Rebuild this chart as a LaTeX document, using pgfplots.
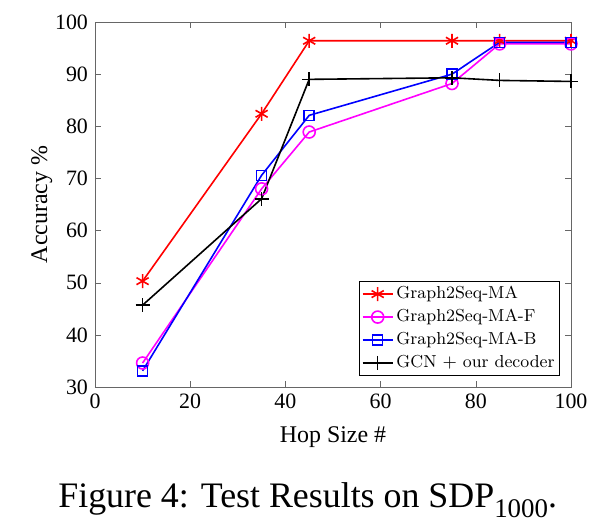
\documentclass[border=0pt]{standalone}
\usepackage{fontspec}
\setmainfont{Liberation Serif}
\newfontfamily\lmfont{Latin Modern Roman}
\usepackage{pgfplots}
\pgfplotsset{compat=1.18}
\definecolor{pmag}{rgb}{1,0,1}
\definecolor{pred}{rgb}{1,0,0}
\definecolor{pblue}{rgb}{0,0,1}
\begin{document}
\begin{tikzpicture}
\path (-47.5bp,-67.5bp) rectangle (252.5bp,193.5bp);
\begin{axis}[at={(0,0)}, anchor=south west, scale only axis,
 width=238bp, height=182.5bp,
 xmin=0, xmax=100, ymin=30, ymax=100,
 xtick={0,20,...,100}, ytick={30,40,...,100},
 tick align=inside, major tick length=3bp,
 axis line style={black!60}, tick style={black!60},
 ticklabel style={font=\fontsize{11}{13}\selectfont},
 /pgf/number format/assume math mode=true,
 xlabel={Hop Size \#}, ylabel={Accuracy \%},
 label style={font=\fontsize{12}{14}\selectfont},
 xlabel style={at={(axis description cs:0.5,-0.1507)}, anchor=base},
 ylabel style={at={(axis description cs:-0.1008,0.5)}, anchor=base},
 legend cell align=left,
 legend image code/.code={\draw[mark repeat=2,mark phase=2] plot coordinates {(0bp,0bp)(7.5bp,0bp)(15bp,0bp)};},
 legend style={at={(1,0)}, anchor=south east, xshift=-5.5bp, yshift=5.5bp,
   font=\lmfont\fontsize{8.7}{11}\selectfont, draw=black, inner sep=1bp,
   row sep=0.8bp, nodes={inner sep=1.5bp}},
 every axis plot/.append style={line width=0.8bp},
]
\addplot[pred, mark=asterisk, mark size=3.5bp] coordinates {(10,50.3)(35,82.4)(45,96.4)(75,96.4)(85,96.4)(100,96.4)};
\addlegendentry{Graph2Seq-MA}
\addplot[pmag, mark=o, mark size=3bp] coordinates {(10,34.6)(35,68.0)(45,78.9)(75,88.2)(85,95.8)(100,95.8)};
\addlegendentry{Graph2Seq-MA-F}
\addplot[pblue, mark=square, mark size=2.5bp] coordinates {(10,33.1)(35,70.6)(45,82.1)(75,90.0)(85,96.1)(100,96.1)};
\addlegendentry{Graph2Seq-MA-B}
\addplot[black, mark=+, mark size=3.5bp] coordinates {(10,45.7)(35,66.1)(45,89.0)(75,89.3)(85,88.8)(100,88.6)};
\addlegendentry{GCN $+$ our decoder}
\end{axis}
\node[anchor=base west, inner sep=0pt, font=\fontsize{18}{20}\selectfont] at (-18.5bp,-60bp) {Figure 4: Test Results on SDP\raisebox{-5bp}{\fontsize{13.5}{15}\selectfont 1000}.};
\end{tikzpicture}
\end{document}
